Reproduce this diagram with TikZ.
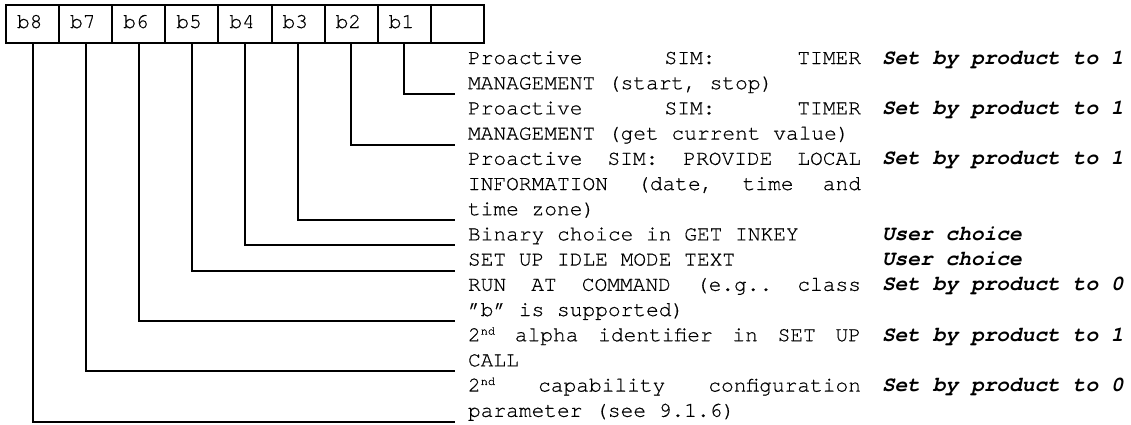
\documentclass[tikz,border=0pt]{standalone}
\usepackage{fontspec}
\setmainfont{TeX Gyre Cursor}[UprightFeatures={FakeBold=0.5}]
\newcommand{\nd}{\raisebox{0.75ex}{\fontsize{6pt}{6pt}\selectfont nd}}
\begin{document}
\begin{tikzpicture}[x=0.5pt,y=-0.5pt,line width=1pt,
  every node/.style={font=\fontsize{10.6pt}{12.6pt}\selectfont, inner sep=0pt},
  cell/.style={draw, minimum width=26.55pt, minimum height=19pt, text width=15.55pt,
    align=left, inner xsep=5.5pt, anchor=north west, text height=6.8pt, text depth=2.8pt},
  txt/.style={anchor=base west},
  val/.style={anchor=base west, font=\fontsize{10.6pt}{12.6pt}\selectfont\bfseries\itshape},
  bitline/.style={line width=1pt}]
\useasboundingbox (0,0) rectangle (1131,424);
% bit cells
\foreach [count=\i from 0] \lab in {b8,b7,b6,b5,b4,b3,b2,b1}
  \node[cell] (\lab) at ({5+53.1*\i},4) {\lab};
\node[cell] (blank) at ({5+53.1*8},4) {};
% descriptions
\node[txt] (t1)  at (467,64.0)  {\hbox to 196.5pt{Proactive\hfill SIM:\hfill TIMER}};
\node[txt] (t2)  at (467,89.2)  {MANAGEMENT (start, stop)};
\node[txt] (t3)  at (467,114.4) {\hbox to 196.5pt{Proactive\hfill SIM:\hfill TIMER}};
\node[txt] (t4)  at (467,139.6) {MANAGEMENT (get current value)};
\node[txt] (t5)  at (467,164.8) {\hbox to 196.5pt{Proactive\hfill SIM:\hfill PROVIDE\hfill LOCAL}};
\node[txt] (t6)  at (467,190.0) {\hbox to 196.5pt{INFORMATION\hfill (date,\hfill time\hfill and}};
\node[txt] (t7)  at (467,215.2) {time zone)};
\node[txt] (t8)  at (467,240.4) {Binary choice in GET INKEY};
\node[txt] (t9)  at (467,265.6) {SET UP IDLE MODE TEXT};
\node[txt] (t10) at (467,290.8) {\hbox to 196.5pt{RUN\hfill AT\hfill COMMAND\hfill (e.g..\hfill class}};
\node[txt] (t11) at (467,316.0) {\symbol{"22}b\symbol{"22} is supported)};
\node[txt] (t12) at (467,341.2) {\hbox to 196.5pt{2\nd\hfill alpha\hfill identifier\hfill in\hfill SET\hfill UP}};
\node[txt] (t13) at (467,366.4) {CALL};
\node[txt] (t14) at (467,391.6) {\hbox to 196.5pt{2\nd\hfill capability\hfill configuration}};
\node[txt] (t15) at (467,416.8) {parameter (see 9.1.6)};
% values
\node[val] (v1) at (881,64.0)  {Set by product to 1};
\node[val] (v2) at (881,114.4) {Set by product to 1};
\node[val] (v3) at (881,164.8) {Set by product to 1};
\node[val] (v4) at (881,240.4) {User choice};
\node[val] (v5) at (881,265.6) {User choice};
\node[val] (v6) at (881,290.8) {Set by product to 0};
\node[val] (v7) at (881,341.2) {Set by product to 1};
\node[val] (v8) at (881,391.6) {Set by product to 0};
% line ends
\coordinate (e1) at (455,94.2);
\coordinate (e2) at (455,144.6);
\coordinate (e3) at (455,220.0);
\coordinate (e4) at (455,245.4);
\coordinate (e5) at (455,270.6);
\coordinate (e6) at (455,321.0);
\coordinate (e7) at (455,371.4);
\coordinate (e8) at (455,421.6);
% connectors
\draw[bitline] (b1.south) |- (e1);
\draw[bitline] (b2.south) |- (e2);
\draw[bitline] (b3.south) |- (e3);
\draw[bitline] (b4.south) |- (e4);
\draw[bitline] (b5.south) |- (e5);
\draw[bitline] (b6.south) |- (e6);
\draw[bitline] (b7.south) |- (e7);
\draw[bitline] (b8.south) |- (e8);
\end{tikzpicture}
\end{document}
